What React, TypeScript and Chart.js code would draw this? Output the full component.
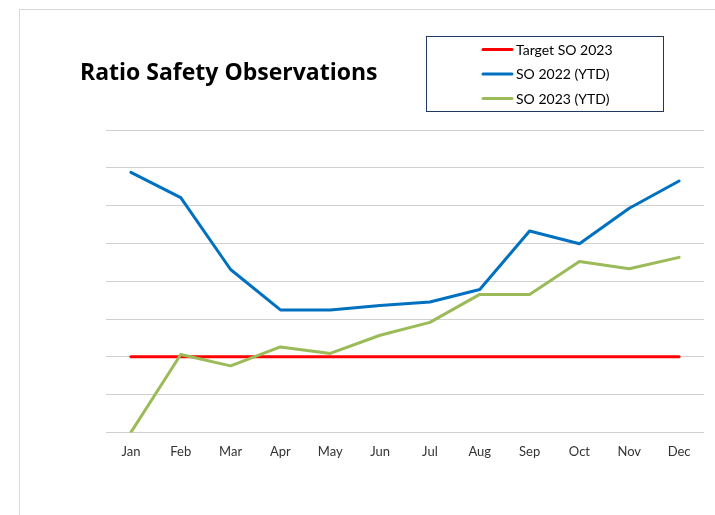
import React, { useEffect, useRef } from "react";
import { Chart, registerables } from "chart.js";

Chart.register(...registerables);

const months = ["Jan", "Feb", "Mar", "Apr", "May", "Jun", "Jul", "Aug", "Sep", "Oct", "Nov", "Dec"];
const targetSO2023 = [2, 2, 2, 2, 2, 2, 2, 2, 2, 2, 2, 2];
const so2022 = [6.88, 6.21, 4.31, 3.24, 3.24, 3.36, 3.45, 3.78, 5.33, 4.99, 5.93, 6.65];
const so2023 = [0, 2.06, 1.76, 2.26, 2.09, 2.57, 2.91, 3.65, 3.65, 4.52, 4.33, 4.63];
const seriesNames = ["Target SO 2023", "SO 2022 (YTD)", "SO 2023 (YTD)"];
const seriesColors = ["#ff0000", "#0070c0", "#9bbb59"];
const chartTitle = "Ratio Safety Observations";

const FONT = "Lato, 'Open Sans', sans-serif";
const TITLE_FONT = "'Open Sans', Lato, sans-serif";

const decor = {
  id: "decor",
  beforeDraw(chart: any) {
    const ctx = chart.ctx;
    ctx.save();
    ctx.fillStyle = "#ffffff";
    ctx.fillRect(0, 0, chart.width, chart.height);
    ctx.strokeStyle = "#d9d9d9";
    ctx.lineWidth = 1;
    ctx.strokeRect(19.5, 9.5, 900, 700);
    ctx.restore();
  },
  afterDraw(chart: any) {
    const ctx = chart.ctx;
    ctx.save();
    // title
    ctx.fillStyle = "#000000";
    ctx.font = `bold 23px ${TITLE_FONT}`;
    ctx.textBaseline = "alphabetic";
    ctx.textAlign = "left";
    ctx.fillText(chartTitle, 80, 80);
    // legend box
    ctx.strokeStyle = "#203864";
    ctx.lineWidth = 1;
    ctx.strokeRect(426.5, 36.5, 237, 75);
    ctx.font = `14px ${FONT}`;
    ctx.textBaseline = "middle";
    ctx.lineCap = "round";
    seriesNames.forEach((name, i) => {
      const y = 49.5 + i * 24.5;
      ctx.strokeStyle = seriesColors[i];
      ctx.lineWidth = 3;
      ctx.beginPath();
      ctx.moveTo(483, y);
      ctx.lineTo(512, y);
      ctx.stroke();
      ctx.fillStyle = "#000000";
      ctx.fillText(name, 516, y + 0.5);
    });
    ctx.restore();
  },
};

export default function App() {
  const ref = useRef<HTMLCanvasElement>(null);
  useEffect(() => {
    if (!ref.current) return;
    const mk = (i: number, data: number[], order: number) => ({
      label: seriesNames[i],
      data,
      borderColor: seriesColors[i],
      backgroundColor: seriesColors[i],
      borderWidth: 3,
      pointRadius: 0,
      tension: 0,
      fill: false,
      borderCapStyle: "round",
      borderJoinStyle: "round",
      order,
    });
    const chart = new Chart(ref.current, {
      type: "line",
      data: {
        labels: months,
        datasets: [mk(0, targetSO2023, 2), mk(1, so2022, 1), mk(2, so2023, 0)] as any,
      },
      plugins: [decor],
      options: {
        animation: false,
        responsive: false,
        maintainAspectRatio: false,
        layout: { padding: { left: 106, right: 11, top: 130, bottom: 43 } },
        plugins: { legend: { display: false }, title: { display: false }, tooltip: { enabled: false } },
        scales: {
          x: {
            offset: true,
            grid: { display: false, drawTicks: false },
            border: { display: false },
            ticks: { color: "#333333", font: { family: FONT, size: 13 }, padding: 12, maxRotation: 0 },
          },
          y: {
            min: 0,
            max: 8,
            ticks: { display: false, stepSize: 1 },
            grid: { color: "#d0d0d0", lineWidth: 1, drawTicks: false },
            border: { display: false },
          },
        },
      },
    });
    return () => chart.destroy();
  }, []);
  return (
    <div style={{ position: "absolute", left: 0, top: 0, width: 715, height: 515 }}>
      <canvas ref={ref} width={715} height={515} style={{ display: "block" }} />
    </div>
  );
}
